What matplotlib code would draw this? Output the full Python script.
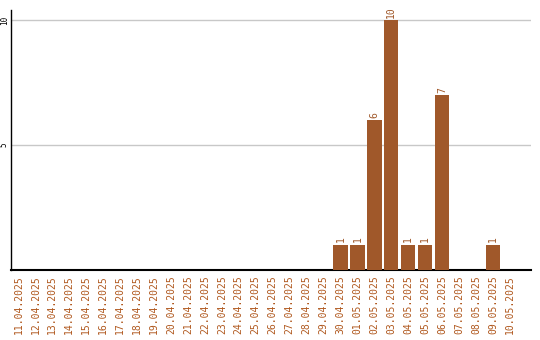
import matplotlib
matplotlib.use("Agg")
import matplotlib.pyplot as plt

dates = ["11.04.2025", "12.04.2025", "13.04.2025", "14.04.2025", "15.04.2025",
         "16.04.2025", "17.04.2025", "18.04.2025", "19.04.2025", "20.04.2025",
         "21.04.2025", "22.04.2025", "23.04.2025", "24.04.2025", "25.04.2025",
         "26.04.2025", "27.04.2025", "28.04.2025", "29.04.2025", "30.04.2025",
         "01.05.2025", "02.05.2025", "03.05.2025", "04.05.2025", "05.05.2025",
         "06.05.2025", "07.05.2025", "08.05.2025", "09.05.2025", "10.05.2025"]
values = [0, 0, 0, 0, 0, 0, 0, 0, 0, 0,
          0, 0, 0, 0, 0, 0, 0, 0, 0, 1,
          1, 6, 10, 1, 1, 7, 0, 0, 1, 0]
yticks = [5, 10]

bar_color = "#A0582A"
label_color = "#B0581E"

fig = plt.figure(figsize=(5.4, 3.4), dpi=100)
ax = fig.add_axes([11/540, 70/340, 520/540, 260/340])

x = list(range(len(dates)))
ax.bar(x, values, width=0.84, color=bar_color, zorder=3)
for xi, v in zip(x, values):
    if v > 0:
        ax.text(xi, v + 0.1, str(v), rotation=90, ha="center", va="bottom",
                fontsize=7, family="DejaVu Sans Mono", color=bar_color, zorder=4)

ax.set_xlim(-0.44, 30.24)
ax.set_ylim(0, 10.4)
ax.set_yticks(yticks)
ax.set_yticklabels([str(t) for t in yticks], rotation=90, va="center",
                   fontsize=5.5, family="DejaVu Sans Mono")
ax.set_xticks(x)
ax.set_xticklabels(dates, rotation=90, fontsize=7, family="DejaVu Sans Mono",
                   color=label_color)
ax.tick_params(axis="x", length=0, pad=4)
ax.tick_params(axis="y", length=0, pad=1.5)
ax.grid(axis="y", color="#c8c8c8", linewidth=1, zorder=0)
for s in ["top", "right"]:
    ax.spines[s].set_visible(False)
ax.spines["left"].set_linewidth(1)
ax.spines["bottom"].set_linewidth(1.5)

fig.savefig("out.png", dpi=100)
